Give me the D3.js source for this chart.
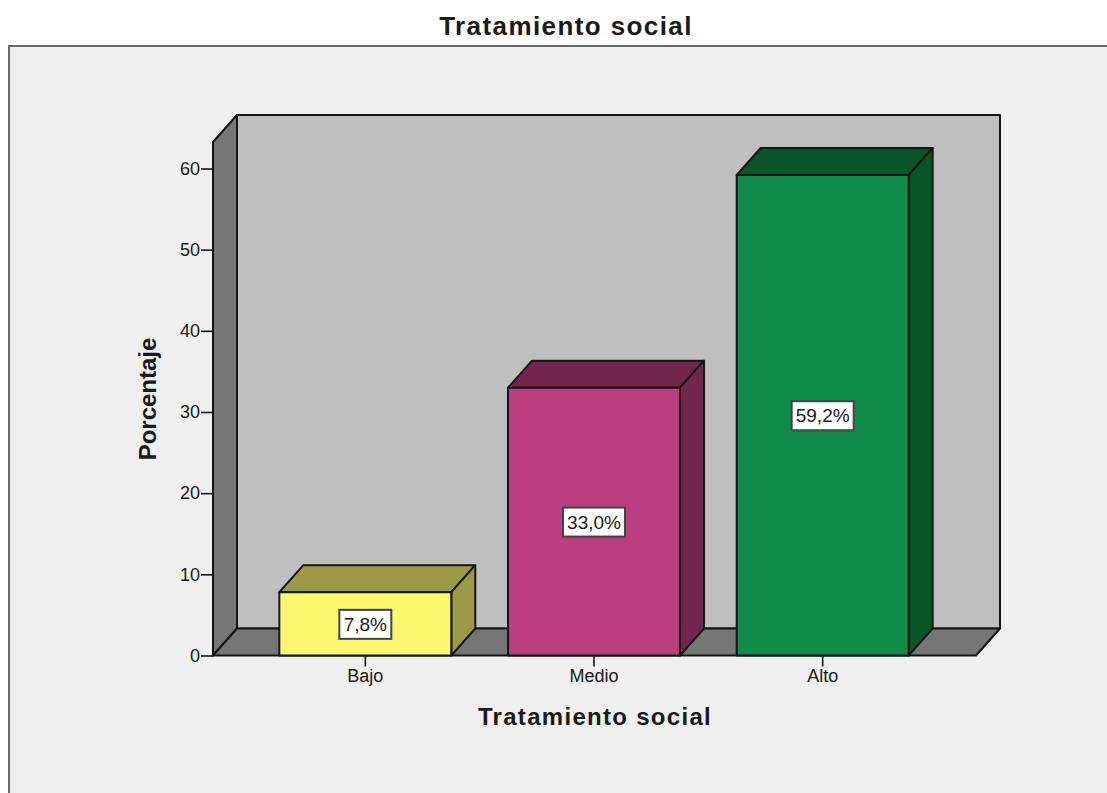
<!DOCTYPE html>
<html><head><meta charset="utf-8"><script src="https://cdn.jsdelivr.net/npm/d3@7"></script>
<style>html,body{margin:0;padding:0;background:#fff}svg{display:block}text{font-family:"Liberation Sans",Arial,sans-serif;fill:#1a1a1a}</style></head>
<body><svg id="c" width="1107" height="793"></svg>
<script>
const categories = ["Bajo","Medio","Alto"];
const values = [7.8,33.0,59.2];
const valueLabels = ["7,8%","33,0%","59,2%"];
const yTicks = [0,10,20,30,40,50,60];
const frontColors = ["#fdf76f","#bb3e7e","#0f8c49"];
const sideColors = ["#9c9a47","#72264e","#085528"];
const chartTitle = "Tratamiento social";
const yTitle = "Porcentaje";

const svg = d3.select("#c");
const x = d3.scaleBand().domain(categories).range([251,937]).paddingInner(0.248).paddingOuter(0.124);
const y = d3.scaleLinear().domain([0,60]).range([655.5,168.5]);
const dx = 24, dy = -27, left = 213, right = 976, yTop = 142;
const stroke = "#141414", sw = 2;
const poly = (pts,fill) => svg.append("polygon").attr("points",pts.map(p=>p.join(",")).join(" "))
  .attr("fill",fill).attr("stroke",stroke).attr("stroke-width",sw).attr("stroke-linejoin","round");

svg.append("rect").attr("x",9).attr("y",46).attr("width",1110).attr("height",760)
  .attr("fill","#efefef").attr("stroke","#6a6a6a").attr("stroke-width",2);

svg.append("text").attr("x",566).attr("y",35).attr("text-anchor","middle")
  .attr("font-size",26).attr("font-weight","bold").attr("letter-spacing",1.4).text(chartTitle);

// walls
const y0 = y(0);
poly([[left+dx,yTop+dy],[right+dx,yTop+dy],[right+dx,y0+dy],[left+dx,y0+dy]],"#bfbfbf");
poly([[left,yTop],[left+dx,yTop+dy],[left+dx,y0+dy],[left,y0]],"#767676");
poly([[left,y0],[left+dx,y0+dy],[right+dx,y0+dy],[right,y0]],"#767676");

// bars
categories.forEach((c,i)=>{
  const x0=x(c), x1=x0+x.bandwidth(), t=y(values[i]);
  poly([[x0,t],[x0+dx,t+dy],[x1+dx,t+dy],[x1,t]],sideColors[i]);
  poly([[x1,t],[x1+dx,t+dy],[x1+dx,y0+dy],[x1,y0]],sideColors[i]);
  poly([[x0,t],[x1,t],[x1,y0],[x0,y0]],frontColors[i]);
  const cx=x0+x.bandwidth()/2, cy=(t+y0)/2;
  const w = valueLabels[i].length>4 ? 62 : 52;
  svg.append("rect").attr("x",cx-w/2).attr("y",cy-14).attr("width",w).attr("height",29)
    .attr("fill","#fff").attr("stroke","#444").attr("stroke-width",2);
  svg.append("text").attr("x",cx).attr("y",cy+7).attr("text-anchor","middle").attr("font-size",19).text(valueLabels[i]);
});

// y axis
const yAxis = svg.append("g").attr("transform",`translate(${left},0)`)
  .call(d3.axisLeft(y).tickValues(yTicks).tickSize(12).tickPadding(1).tickFormat(d3.format("d")));
yAxis.select(".domain").remove();
yAxis.selectAll("line").attr("stroke",stroke).attr("stroke-width",1.6);
yAxis.selectAll("text").attr("font-size",18).attr("fill","#1a1a1a").style("font-family",'"Liberation Sans",Arial,sans-serif');

// x axis
const xAxis = svg.append("g").attr("transform",`translate(0,${y0})`)
  .call(d3.axisBottom(x).tickSize(11).tickPadding(3));
xAxis.select(".domain").remove();
xAxis.selectAll("line").attr("stroke",stroke).attr("stroke-width",1.6);
xAxis.selectAll("text").attr("font-size",18).attr("fill","#1a1a1a").style("font-family",'"Liberation Sans",Arial,sans-serif');

svg.append("text").attr("x",595).attr("y",725).attr("text-anchor","middle")
  .attr("font-size",24).attr("font-weight","bold").attr("letter-spacing",1.3).text(chartTitle);
svg.append("text").attr("transform","translate(156,399) rotate(-90)").attr("text-anchor","middle")
  .attr("font-size",24).attr("font-weight","bold").text(yTitle);
</script></body></html>
